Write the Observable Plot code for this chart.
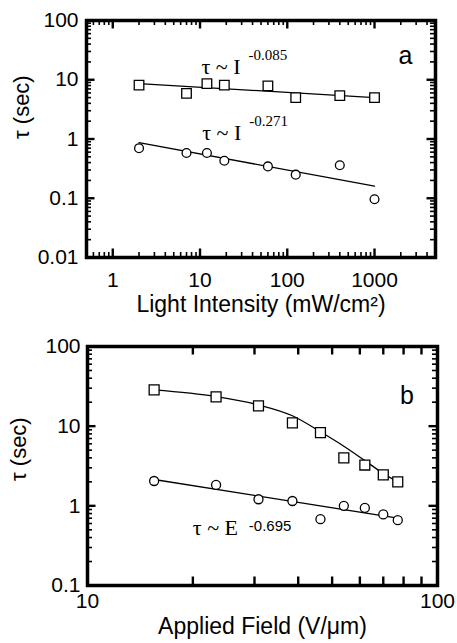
<!DOCTYPE html>
<html><head><meta charset="utf-8">
<script src="https://cdn.jsdelivr.net/npm/d3@7"></script>
<script src="https://cdn.jsdelivr.net/npm/@observablehq/plot@0.6"></script>
<style>
body{margin:0;background:#fff;}
#chart{width:457px;height:643px;}
#chart svg{display:block;}
</style></head><body><div id="chart"></div>
<script>
// ---- Panel a: tau vs light intensity ----
const intensity = [2, 7, 12, 19, 60, 125, 400, 1000];
const tauSquareA = [8.1, 5.9, 8.6, 8.1, 7.9, 5.0, 5.4, 5.0];
const tauCircleA = [0.70, 0.58, 0.58, 0.43, 0.345, 0.25, 0.36, 0.096];
const fitIntensity = [2, 1000];
const fitSquareA = [8.6, 5.0];
const fitCircleA = [0.87, 0.16];

// ---- Panel b: tau vs applied field ----
const field = [15.5, 23.3, 30.8, 38.5, 46.3, 54, 62, 70, 77];
const tauSquareB = [28.5, 23.3, 18.0, 11.0, 8.3, 4.0, 3.25, 2.45, 2.0];
const tauCircleB = [2.05, 1.83, 1.21, 1.15, 0.68, 1.0, 0.94, 0.78, 0.66];
const curveSquareB = [28.5, 23.5, 18.5, 13.5, 8.5, 5.6, 3.7, 2.55, 2.0];
const fitField = [15.5, 77];
const fitCircleB = [2.14, 0.70];

// ---- tick values and labels ----
const majorXA = [1, 10, 100, 1000];
const minorXA = [0.6, 0.7, 0.8, 0.9, 2, 3, 4, 5, 6, 7, 8, 9, 20, 30, 40, 50, 60, 70, 80, 90,
  200, 300, 400, 500, 600, 700, 800, 900, 2000, 3000, 4000];
const majorYA = [0.01, 0.1, 1, 10, 100];
const minorYA = [0.02, 0.03, 0.04, 0.05, 0.06, 0.07, 0.08, 0.09, 0.2, 0.3, 0.4, 0.5, 0.6, 0.7, 0.8, 0.9,
  2, 3, 4, 5, 6, 7, 8, 9, 20, 30, 40, 50, 60, 70, 80, 90];
const majorXB = [10, 100];
const minorXB = [20, 30, 40, 50, 60, 70, 80, 90];
const majorYB = [0.1, 1, 10, 100];
const minorYB = [0.2, 0.3, 0.4, 0.5, 0.6, 0.7, 0.8, 0.9, 2, 3, 4, 5, 6, 7, 8, 9, 20, 30, 40, 50, 60, 70, 80, 90];

const xTitleA = "Light Intensity (mW/cm²)";
const xTitleB = "Applied Field (V/μm)";
const yTitle = "τ (sec)";
const annotA = [
  {x: 10.4, y: 12.7, main: "τ ~ I", sup: "-0.085"},
  {x: 10.6, y: 0.98, main: "τ ~ I", sup: "-0.271"}
];
const annotB = [{x: 20, y: 0.436, main: "τ ~ E", sup: "-0.695"}];
const panelA = [{x: 2260, y: 18.8, t: "a"}];
const panelB = [{x: 81.8, y: 19.2, t: "b"}];

const SANS = "Liberation Sans, Arial, Helvetica, sans-serif";
const SERIF = "Liberation Serif, Times New Roman, serif";
const TICK = "black";

// inward frame ticks, drawn as short tick marks inset from the opposite side
function frameTicks(majX, minX, majY, minY, w, h) {
  const setX = (vals, len, sw) => [
    Plot.tickX(vals, {x: d => d, insetTop: h - len, stroke: TICK, strokeWidth: sw}),
    Plot.tickX(vals, {x: d => d, insetBottom: h - len, stroke: TICK, strokeWidth: sw})
  ];
  const setY = (vals, len, sw) => [
    Plot.tickY(vals, {y: d => d, insetRight: w - len, stroke: TICK, strokeWidth: sw}),
    Plot.tickY(vals, {y: d => d, insetLeft: w - len, stroke: TICK, strokeWidth: sw})
  ];
  return [...setX(majX, 8.5, 2.4), ...setX(minX, 5, 1.6), ...setY(majY, 8.5, 2.4), ...setY(minY, 5, 1.6)];
}

const ptsSqA = intensity.map((x, i) => ({x, y: tauSquareA[i]}));
const ptsCiA = intensity.map((x, i) => ({x, y: tauCircleA[i]}));
const lineSqA = fitIntensity.map((x, i) => ({x, y: fitSquareA[i]}));
const lineCiA = fitIntensity.map((x, i) => ({x, y: fitCircleA[i]}));

const WA = 457, HA = 320, mlA = 86, mrA = 22, mtA = 20, mbA = 63;
const plotA = Plot.plot({
  width: WA, height: HA,
  marginLeft: mlA, marginRight: mrA, marginTop: mtA, marginBottom: mbA,
  style: {fontFamily: SANS, fontSize: "21px", color: "black", background: "white"},
  x: {type: "log", domain: [0.5, 5000], axis: null},
  y: {type: "log", domain: [0.01, 100], axis: null},
  marks: [
    ...frameTicks(majorXA, minorXA, majorYA, minorYA, WA - mlA - mrA, HA - mtA - mbA),
    Plot.line(lineSqA, {x: "x", y: "y", stroke: "black", strokeWidth: 1.3}),
    Plot.line(lineCiA, {x: "x", y: "y", stroke: "black", strokeWidth: 1.3}),
    Plot.dot(ptsSqA, {x: "x", y: "y", symbol: "square", r: 5.4, fill: "white", stroke: "black", strokeWidth: 1.3}),
    Plot.dot(ptsCiA, {x: "x", y: "y", symbol: "circle", r: 4.4, fill: "white", stroke: "black", strokeWidth: 1.3}),
    Plot.text(annotA, {x: "x", y: "y", text: "main", textAnchor: "start", lineAnchor: "bottom", fontFamily: SERIF, fontSize: 22}),
    Plot.text(annotA, {x: "x", y: "y", text: "sup", textAnchor: "start", lineAnchor: "bottom", dx: 47, dy: -14, fontFamily: SERIF, fontSize: 15}),
    Plot.text(panelA, {x: "x", y: "y", text: "t", textAnchor: "middle", lineAnchor: "bottom", fontSize: 25}),
    Plot.frame({stroke: "black", strokeWidth: 3.5}),
    Plot.axisX(majorXA, {anchor: "bottom", tickSize: 0, tickPadding: 15, tickFormat: d => String(d), fontSize: 21, label: null}),
    Plot.axisY(majorYA, {anchor: "left", tickSize: 0, tickPadding: 8, tickFormat: d => String(d), fontSize: 21, label: null}),
    Plot.text([xTitleA], {frameAnchor: "bottom", dy: 54, lineAnchor: "bottom", fontSize: 23}),
    Plot.text([yTitle], {frameAnchor: "left", dx: -58, rotate: -90, lineAnchor: "bottom", fontSize: 22})
  ]
});

const ptsSqB = field.map((x, i) => ({x, y: tauSquareB[i]}));
const ptsCiB = field.map((x, i) => ({x, y: tauCircleB[i]}));
const curveSqB = field.map((x, i) => ({x, y: curveSquareB[i]}));
const lineCiB = fitField.map((x, i) => ({x, y: fitCircleB[i]}));

const WB = 457, HB = 323, mlB = 87, mrB = 20, mtB = 26, mbB = 58;
const plotB = Plot.plot({
  width: WB, height: HB,
  marginLeft: mlB, marginRight: mrB, marginTop: mtB, marginBottom: mbB,
  style: {fontFamily: SANS, fontSize: "21px", color: "black", background: "white"},
  x: {type: "log", domain: [10, 100], axis: null},
  y: {type: "log", domain: [0.1, 100], axis: null},
  marks: [
    ...frameTicks(minorXB, [], majorYB, minorYB, WB - mlB - mrB, HB - mtB - mbB),
    Plot.line(curveSqB, {x: "x", y: "y", curve: "monotone-x", stroke: "black", strokeWidth: 1.3}),
    Plot.line(lineCiB, {x: "x", y: "y", stroke: "black", strokeWidth: 1.3}),
    Plot.dot(ptsSqB, {x: "x", y: "y", symbol: "square", r: 5.6, fill: "white", stroke: "black", strokeWidth: 1.3}),
    Plot.dot(ptsCiB, {x: "x", y: "y", symbol: "circle", r: 4.5, fill: "white", stroke: "black", strokeWidth: 1.3}),
    Plot.text(annotB, {x: "x", y: "y", text: "main", textAnchor: "start", lineAnchor: "bottom", fontFamily: SERIF, fontSize: 22}),
    Plot.text(annotB, {x: "x", y: "y", text: "sup", textAnchor: "start", lineAnchor: "bottom", dx: 56, dy: -4, fontFamily: SANS, fontSize: 15}),
    Plot.text(panelB, {x: "x", y: "y", text: "t", textAnchor: "middle", lineAnchor: "bottom", fontSize: 25}),
    Plot.frame({stroke: "black", strokeWidth: 3.5}),
    Plot.axisX(majorXB, {anchor: "bottom", tickSize: 0, tickPadding: 8, tickFormat: d => String(d), fontSize: 21, label: null}),
    Plot.axisY(majorYB, {anchor: "left", tickSize: 0, tickPadding: 7, tickFormat: d => String(d), fontSize: 21, label: null}),
    Plot.text([xTitleB], {frameAnchor: "bottom", dy: 48, lineAnchor: "bottom", fontSize: 23}),
    Plot.text([yTitle], {frameAnchor: "left", dx: -62, dy: 15, rotate: -90, lineAnchor: "bottom", fontSize: 22})
  ]
});

const chart = document.getElementById("chart");
chart.appendChild(plotA);
chart.appendChild(plotB);
</script>
</body></html>
